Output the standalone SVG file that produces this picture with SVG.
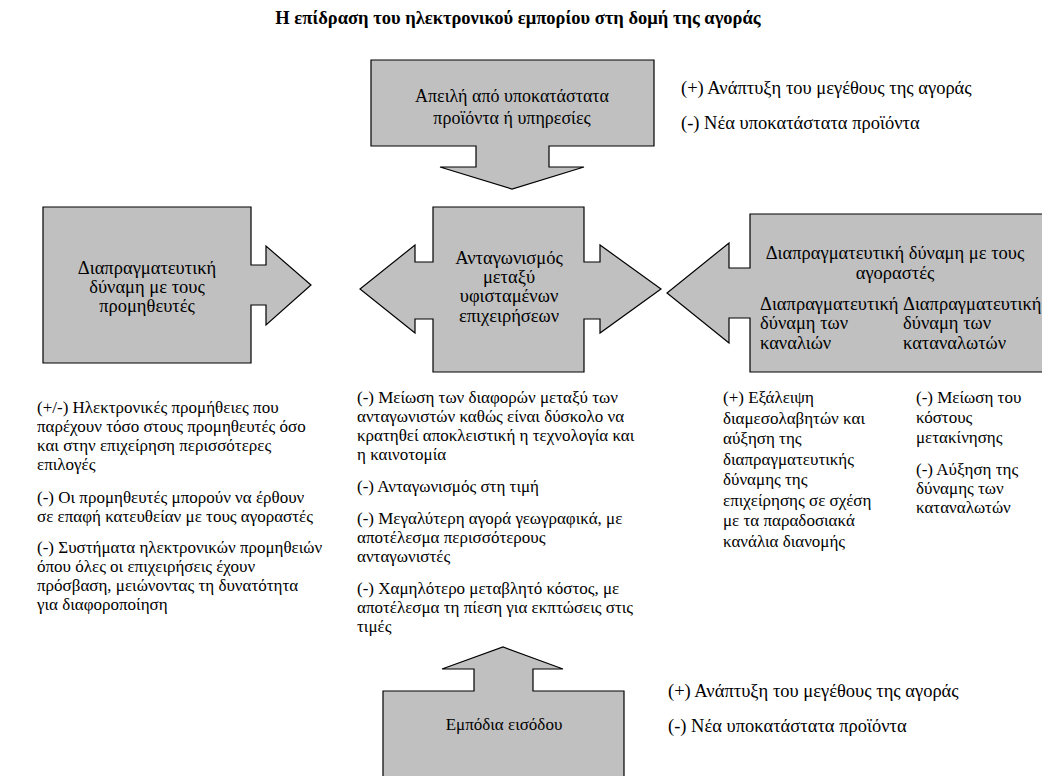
<svg xmlns="http://www.w3.org/2000/svg" width="1042" height="776" viewBox="0 0 1042 776" font-family="'Liberation Serif','DejaVu Serif','Times New Roman',serif">
<style>
.shape{fill:#c0c0c0;stroke:#000;stroke-width:1.2;stroke-linejoin:miter}
text{font-family:'Liberation Serif','DejaVu Serif','Times New Roman',serif;font-size:17px;fill:#000}
.c{text-anchor:middle}
.title{font-weight:bold;font-size:18.5px}
.big{font-size:18.5px}
.mid{font-size:18px}
</style>
<rect width="1042" height="776" fill="#fff"/>
<text class="title c" x="518" y="24">Η επίδραση του ηλεκτρονικού εμπορίου στη δομή της αγοράς</text>

<g id="threat">
<path class="shape" d="M371,60 H654 V146 H549 V167 H584 L512,189 L440,167 H476 V146 H371 Z"/>
<text class="c mid" x="512" y="102">Απειλή από υποκατάστατα</text>
<text class="c mid" x="512" y="124">προϊόντα ή υπηρεσίες</text>
</g>

<g id="suppliers">
<path class="shape" d="M43,207 H251 V265 H266 V246 L311,285 L266,325 V305 H251 V363 H43 Z"/>
<text class="c big" x="147" y="274">Διαπραγματευτική</text>
<text class="c big" x="147" y="293">δύναμη με τους</text>
<text class="c big" x="147" y="312">προμηθευτές</text>
</g>

<g id="rivalry">
<path class="shape" d="M433,207 H584 V262 H600 V245 L661,289 L600,333 V319 H584 V372 H433 V319 H415 V333 L360,289 L415,245 V262 H433 Z"/>
<text class="c big" x="509" y="264">Ανταγωνισμός</text>
<text class="c big" x="509" y="283">μεταξύ</text>
<text class="c big" x="509" y="302">υφισταμένων</text>
<text class="c big" x="509" y="322">επιχειρήσεων</text>
</g>

<g id="buyers">
<path class="shape" d="M750,214 H1043 V372 H750 V318 H729 V343 L667,293 L729,243 V268 H750 Z"/>
<text class="c big" x="895" y="259">Διαπραγματευτική δύναμη με τους</text>
<text class="c big" x="895" y="279">αγοραστές</text>
<text class="big" x="760" y="310">Διαπραγματευτική</text>
<text class="big" x="760" y="329">δύναμη των</text>
<text class="big" x="760" y="349">καναλιών</text>
<text class="big" x="903" y="310">Διαπραγματευτική</text>
<text class="big" x="903" y="329">δύναμη των</text>
<text class="big" x="903" y="349">καταναλωτών</text>
</g>

<g id="entry">
<path class="shape" d="M383,691 H474 V669 H442 L503,647 L563,669 H533 V691 H624 V777 H383 Z"/>
<text class="c" x="504" y="730">Εμπόδια εισόδου</text>
</g>

<g id="connectors"></g>

<g id="notes-threat">
<text class="big" x="681" y="94">(+) Ανάπτυξη του μεγέθους της αγοράς</text>
<text class="big" x="681" y="129">(-) Νέα υποκατάστατα προϊόντα</text>
</g>

<g id="notes-suppliers">
<text x="37" y="413">(+/-) Ηλεκτρονικές προμήθειες που</text>
<text x="37" y="432">παρέχουν τόσο στους προμηθευτές όσο</text>
<text x="37" y="451">και στην επιχείρηση περισσότερες</text>
<text x="37" y="470">επιλογές</text>
<text x="37" y="503">(-) Οι προμηθευτές μπορούν να έρθουν</text>
<text x="37" y="522">σε επαφή κατευθείαν με τους αγοραστές</text>
<text x="37" y="553">(-) Συστήματα ηλεκτρονικών προμηθειών</text>
<text x="37" y="572">όπου όλες οι επιχειρήσεις έχουν</text>
<text x="37" y="591">πρόσβαση, μειώνοντας τη δυνατότητα</text>
<text x="37" y="610">για διαφοροποίηση</text>
</g>

<g id="notes-rivalry">
<text x="357" y="403">(-) Μείωση των διαφορών μεταξύ των</text>
<text x="357" y="422">ανταγωνιστών καθώς είναι δύσκολο να</text>
<text x="357" y="441">κρατηθεί αποκλειστική η τεχνολογία και</text>
<text x="357" y="460">η καινοτομία</text>
<text x="357" y="492">(-) Ανταγωνισμός στη τιμή</text>
<text x="357" y="524">(-) Μεγαλύτερη αγορά γεωγραφικά, με</text>
<text x="357" y="543">αποτέλεσμα περισσότερους</text>
<text x="357" y="562">ανταγωνιστές</text>
<text x="357" y="594">(-) Χαμηλότερο μεταβλητό κόστος, με</text>
<text x="357" y="613">αποτέλεσμα τη πίεση για εκπτώσεις στις</text>
<text x="357" y="632">τιμές</text>
</g>

<g id="notes-channels">
<text x="723" y="403">(+) Εξάλειψη</text>
<text x="723" y="423.5">διαμεσολαβητών και</text>
<text x="723" y="444">αύξηση της</text>
<text x="723" y="464.5">διαπραγματευτικής</text>
<text x="723" y="485">δύναμης της</text>
<text x="723" y="505.5">επιχείρησης σε σχέση</text>
<text x="723" y="526">με τα παραδοσιακά</text>
<text x="723" y="546.5">κανάλια διανομής</text>
</g>

<g id="notes-consumers">
<text x="916" y="403">(-) Μείωση του</text>
<text x="916" y="423">κόστους</text>
<text x="916" y="443">μετακίνησης</text>
<text x="916" y="475">(-) Αύξηση της</text>
<text x="916" y="494">δύναμης των</text>
<text x="916" y="513">καταναλωτών</text>
</g>

<g id="notes-entry">
<text class="big" x="668" y="697">(+) Ανάπτυξη του μεγέθους της αγοράς</text>
<text class="big" x="668" y="732">(-) Νέα υποκατάστατα προϊόντα</text>
</g>
</svg>
